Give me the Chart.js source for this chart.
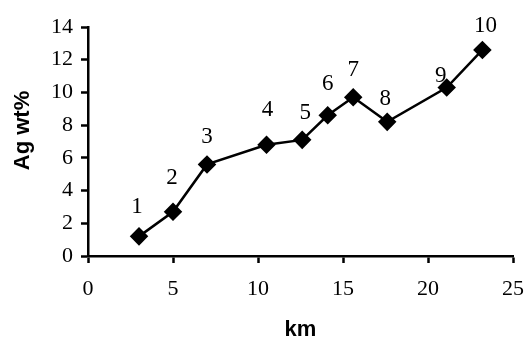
<!DOCTYPE html>
<html>
<head>
<meta charset="utf-8">
<script src="https://cdn.jsdelivr.net/npm/chart.js@4"></script>
<style>
html,body{margin:0;padding:0;background:#fff;}
#wrap{width:525px;height:343px;position:relative;}
</style>
</head>
<body>
<div id="wrap"><canvas id="c" width="525" height="343"></canvas></div>
<script>
// Data
const km = [3, 5, 7, 10.5, 12.6, 14.1, 15.6, 17.6, 21.1, 23.2];
const agWt = [1.2, 2.7, 5.6, 6.8, 7.1, 8.6, 9.7, 8.2, 10.3, 12.6];
const pointNames = ['1', '2', '3', '4', '5', '6', '7', '8', '9', '10'];
const xTickValues = [0, 5, 10, 15, 20, 25];
const yTickValues = [0, 2, 4, 6, 8, 10, 12, 14];
const xTitle = 'km';
const yTitle = 'Ag wt%';

const serif = "'Liberation Serif', 'Times New Roman', serif";
const sans = "'Liberation Sans', Arial, sans-serif";

const labelPlugin = {
  id: 'pointNames',
  afterDatasetsDraw(chart, args, opts) {
    const ctx = chart.ctx;
    const meta = chart.getDatasetMeta(0);
    ctx.save();
    ctx.font = opts.font;
    ctx.fillStyle = '#000';
    ctx.textAlign = 'center';
    ctx.textBaseline = 'middle';
    meta.data.forEach((pt, i) => {
      const off = opts.offsets[i] || [0, -28];
      ctx.fillText(pointNames[i], pt.x + off[0], pt.y + off[1]);
    });
    // rotated y-axis title
    const ca = chart.chartArea;
    ctx.font = opts.titleFont;
    ctx.translate(opts.yTitleX, (ca.top + ca.bottom) / 2 + opts.yTitleShift);
    ctx.rotate(-Math.PI / 2);
    ctx.fillText(yTitle, 0, 0);
    ctx.restore();
  }
};

new Chart(document.getElementById('c'), {
  type: 'scatter',
  data: {
    datasets: [{
      data: km.map((x, i) => ({x: x, y: agWt[i]})),
      showLine: true,
      borderColor: '#000',
      borderWidth: 2.5,
      backgroundColor: '#000',
      pointStyle: 'rectRot',
      pointRadius: 7.5,
      pointHoverRadius: 7.5,
      pointBackgroundColor: '#000',
      pointBorderColor: '#000',
      tension: 0
    }]
  },
  plugins: [labelPlugin],
  options: {
    responsive: false,
    animation: false,
    events: [],
    layout: {padding: {left: 5, top: 27, right: 12, bottom: 0}},
    plugins: {
      legend: {display: false},
      tooltip: {enabled: false},
      pointNames: {
        font: "23px " + serif,
        titleFont: "bold 22px " + sans,
        yTitleX: 23,
        yTitleShift: -11,
        offsets: [[-2, -29], [-1, -34], [0, -27], [1, -35], [3, -27], [0, -31], [0, -27], [-2, -23], [-6, -12], [3, -24]]
      }
    },
    scales: {
      x: {
        type: 'linear',
        min: 0, max: 25,
        afterBuildTicks: s => { s.ticks = xTickValues.map(v => ({value: v})); },
        afterFit: s => { s.height = 87; s.paddingRight = 0; s.paddingLeft = 0; },
        grid: {drawOnChartArea: false, drawTicks: true, tickLength: 7, tickWidth: 2.5, color: '#000'},
        border: {display: true, color: '#000', width: 2.5},
        ticks: {color: '#000', font: {family: serif, size: 22}, padding: 13, maxRotation: 0},
        title: {display: true, text: xTitle, color: '#000', font: {family: sans, size: 22, weight: 'bold'}, padding: {top: 0, bottom: 0}}
      },
      y: {
        type: 'linear',
        min: 0, max: 14,
        afterBuildTicks: s => { s.ticks = yTickValues.map(v => ({value: v})); },
        afterFit: s => { s.width = 83; },
        grid: {drawOnChartArea: false, drawTicks: true, tickLength: 7, tickWidth: 2.5, color: '#000'},
        border: {display: true, color: '#000', width: 2.5},
        ticks: {color: '#000', font: {family: serif, size: 22}, padding: 8},
        title: {display: false}
      }
    }
  }
});
</script>
</body>
</html>
